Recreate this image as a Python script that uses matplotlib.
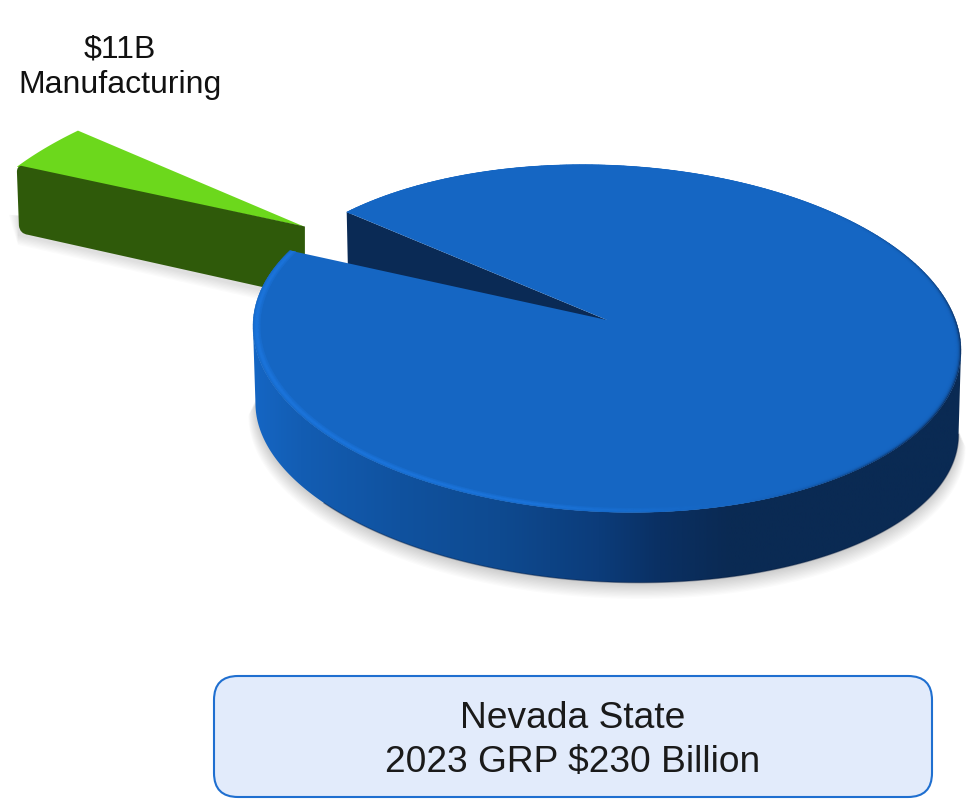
import numpy as np
import matplotlib
matplotlib.use("Agg")
import matplotlib.pyplot as plt
from matplotlib.patches import Polygon, FancyBboxPatch, PathPatch
from matplotlib.path import Path
from matplotlib.collections import PolyCollection
from matplotlib.colors import LinearSegmentedColormap, to_rgb

plt.rcParams['font.family'] = ['Liberation Sans', 'DejaVu Sans']

# ---- data ----
sectors = ["Manufacturing", "Rest of economy"]
values = [11, 219]
label_value = "$11B"
label_name = "Manufacturing"
title_lines = ["Nevada State", "2023 GRP $230 Billion"]

# ---- style ----
FACE = "#1566c3"
INNER = "#0a2a55"
GREEN_TOP = "#6cd81c"
GREEN_SIDE = "#2f5a0a"
START = 142.0           # angle of the slice's back edge
EXPLODE = 1.04

X0, Y0 = 607.0, 320.0
B, A, D, G = 352.0, 171.5, 12.0, 0.1066

def rim(t, r=1.0):
    t = np.radians(np.asarray(t, float))
    u, v = r * np.cos(t), r * np.sin(t)
    w = 1 + G * v
    return (B * u) / w, (-A * v + D * u) / w

def depth(t):
    t = np.radians(np.asarray(t, float))
    return 81.5 + 3.5 * np.cos(t) + 11.5 * np.sin(t)

def top_pts(t, r=1.0):
    x, y = rim(t, r)
    return np.column_stack([X0 + x, Y0 + y])

def bot_pts(t, r=1.0, extra=0.0):
    x, y = rim(t, r)
    return np.column_stack([X0 + x * 0.993, Y0 + y + depth(t) + extra])

fig = plt.figure(figsize=(9.73, 8.01), dpi=100)
ax = fig.add_axes([0, 0, 1, 1])
ax.axis("off")

span = values[0] / sum(values) * 360
t_a, t_b = START, START + span
t_mid = (t_a + t_b) / 2

# ---- exploded slice ----
mx, my = rim(t_mid)
cx, cy = X0 + EXPLODE * mx, Y0 + EXPLODE * my
arc_t = np.linspace(t_a, t_b, 30)
ax_, ay_ = rim(arc_t)
sx = np.linspace(0.868, 0.905, 30)      # the slice shrinks with perspective
sy = np.linspace(0.888, 0.860, 30)
arc = np.column_stack([cx + sx * ax_, cy + sy * ay_])
end = arc[-1]
d_end, d_apex = 66.0, 70.0

# green shadow
for k in range(8):
    e = 1 + k * 1.3
    sh = [(end[0] + 2 - e, end[1] + 48), (end[0] + 1, end[1] + d_end + 2 + e),
          (cx, cy + d_apex + 3 + e), (cx, cy + 30)]
    ax.add_patch(Polygon(sh, closed=True, fc="black", ec="none", alpha=0.016, zorder=1))

ax.add_patch(Polygon(np.vstack([[cx, cy], arc]), closed=True, fc=GREEN_TOP,
                     ec="none", zorder=2))

bl = (end[0] + 3, end[1] + d_end)
verts = [(end[0] + 4, end[1] - 1), (end[0], end[1]), (end[0], end[1] + 5),
         (bl[0] - 1, bl[1] - 7), (bl[0], bl[1] + 1), (bl[0] + 8, bl[1] + 2),
         (cx + 1, cy + d_apex), (cx + 1, cy), (end[0] + 4, end[1] - 1)]
codes = [Path.MOVETO, Path.CURVE3, Path.CURVE3, Path.LINETO, Path.CURVE3, Path.CURVE3,
         Path.LINETO, Path.LINETO, Path.CLOSEPOLY]
ax.add_patch(PathPatch(Path(verts, codes), fc=GREEN_SIDE, ec="none", zorder=3))

# ---- silhouette limits of the outer wall ----
scan = np.linspace(t_b, t_a + 360, 1500)
scan_x = top_pts(scan)[:, 0]
t_left = scan[np.argmin(scan_x)]
t_right = scan[np.argmax(scan_x)]
t_wall = np.linspace(t_left, t_right, 260)

# ---- main pie shadow ----
n_sh = 12
for k in range(n_sh):
    f = k / (n_sh - 1)
    pts_b = bot_pts(t_wall, r=1.0 + 0.02 * f, extra=2 + 10 * f)
    inner = top_pts(t_wall[::-1], r=0.9)
    ax.add_patch(Polygon(np.vstack([pts_b, inner]), closed=True, fc="black", ec="none",
                         alpha=0.015, zorder=4))

# ---- inner cut wall ----
e_top = top_pts([t_a])[0]
e_bot = bot_pts([t_a])[0]
inner_wall = [e_top, e_bot, (X0, Y0 + depth(t_a)), (X0, Y0)]
ax.add_patch(Polygon(inner_wall, closed=True, fc=INNER, ec="none", zorder=5))

# ---- outer wall with gradient ----
stops = [(253, "#1566c4"), (300, "#135db3"), (400, "#10529f"), (500, "#0e4a90"),
         (600, "#0c3c7a"), (660, "#0a3063"), (730, "#0a2a53"), (961, "#0a2a53")]
pos = [(s[0] - 253) / (961 - 253) for s in stops]
cmap = LinearSegmentedColormap.from_list("wall", list(zip(pos, [s[1] for s in stops])))
wall_poly = np.vstack([top_pts(t_wall), bot_pts(t_wall[::-1])])
grad = np.linspace(0, 1, 512).reshape(1, -1)
im = ax.imshow(grad, extent=(253, 961, 600, 200), cmap=cmap, aspect="auto",
               interpolation="bilinear", zorder=6)
clip = Polygon(wall_poly, closed=True, transform=ax.transData, fc="none", ec="none")
ax.add_patch(clip)
im.set_clip_path(clip)

t_line = np.linspace(t_left + 35, t_right, 200)
ax.plot(*bot_pts(t_line).T, color="#04183a", lw=1.0, alpha=0.4, zorder=6.5)

# ---- top face ----
t_face = np.linspace(t_b, t_a + 360, 400)
face = np.vstack([[[X0, Y0]], top_pts(t_face)])
ax.add_patch(Polygon(face, closed=True, fc=FACE, ec="none", zorder=7))

# ---- bevel around the rim ----
face_rgb = np.array(to_rgb(FACE))
bright = np.array(to_rgb("#1f7dea"))
dark = np.array(to_rgb("#0b2f60"))
radii = np.linspace(1.0, 0.98, 7)
ts = np.linspace(t_b, t_a + 360, 300)
quads, cols = [], []
for i in range(len(radii) - 1):
    for j in range(len(ts) - 1):
        tt = [ts[j], ts[j + 1]]
        q = np.vstack([top_pts(tt, radii[i]), top_pts(tt[::-1], radii[i + 1])])
        tm = np.radians((ts[j] + ts[j + 1]) / 2)
        u, v = np.cos(tm), np.sin(tm)
        wt = 1 - i / (len(radii) - 1)
        light = np.clip((0.3 - u) / 0.5, 0, 1) * np.clip((0.62 - v) / 0.3, 0, 1)
        shade = np.clip((u - 0.35) / 0.45, 0, 1) * np.clip((0.9 - v) / 0.9, 0, 1)
        bright_w = light * (0.55 * np.sin(np.pi * wt) + 0.2 * wt)
        dark_w = shade * wt ** 4 * 0.9
        c = face_rgb + (bright - face_rgb) * min(bright_w, 1) + (dark - face_rgb) * dark_w
        quads.append(q)
        cols.append(tuple(np.clip(c, 0, 1)))
ax.add_collection(PolyCollection(quads, facecolors=cols, edgecolors=cols, linewidths=0.3,
                                 zorder=8))

# ---- labels ----
ax.text(120, 49, label_value, ha="center", va="center", fontsize=23, color="#111111",
        parse_math=False, zorder=10)
ax.text(120, 85, label_name, ha="center", va="center", fontsize=23, color="#111111",
        zorder=10)

box = FancyBboxPatch((214, 676), 718, 121, boxstyle="round,pad=0,rounding_size=24",
                     fc="#e2ebfb", ec="#1f6fd0", lw=1.5, zorder=9)
ax.add_patch(box)
ax.text(573, 719, title_lines[0], ha="center", va="center", fontsize=26.7, color="#1a1a1a",
        parse_math=False, zorder=10)
ax.text(573, 763, title_lines[1], ha="center", va="center", fontsize=26.7, color="#1a1a1a",
        parse_math=False, zorder=10)

ax.set_xlim(0, 973)
ax.set_ylim(801, 0)
fig.savefig("out.png", dpi=100, facecolor="white")
